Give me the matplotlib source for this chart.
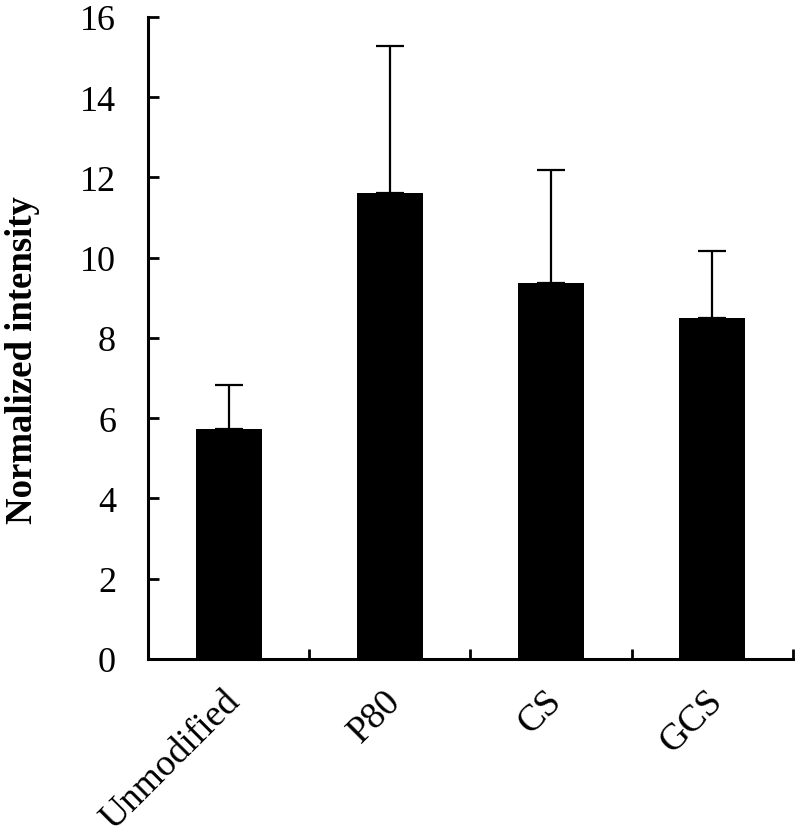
import matplotlib
matplotlib.use("Agg")
import matplotlib.pyplot as plt
import numpy as np

categories = ["Unmodified", "P80", "CS", "GCS"]
values = [5.72, 11.62, 9.37, 8.5]
errors = [1.11, 3.65, 2.82, 1.66]
yticks = [0, 2, 4, 6, 8, 10, 12, 14, 16]

plt.rcParams['font.family'] = ['Liberation Serif', 'DejaVu Serif']

fig = plt.figure(figsize=(8, 8.37), dpi=100)
ax = fig.add_axes([0.185, 0.2115, 0.806, 0.767])

x = np.arange(len(categories))
ax.bar(x, values, width=0.41, color='black', zorder=2)
ax.errorbar(x, values, yerr=[np.zeros(len(errors)), errors], fmt='none',
            ecolor='black', elinewidth=1.6, capsize=10, capthick=1.6, zorder=1)

ax.set_xlim(-0.5, len(categories) - 0.5)
ax.set_ylim(0, 16)
ax.set_yticks(yticks)
ax.set_yticklabels([str(t) for t in yticks], fontsize=26)

ax.set_xticks(np.arange(len(categories) + 1) - 0.5)
ax.set_xticklabels([])
ax.tick_params(axis='x', direction='in', length=7, width=2)
ax.tick_params(axis='y', direction='in', length=8, width=2, pad=23)
for i, c in enumerate(categories):
    ax.text(i - 0.04, -0.6, c, rotation=45, ha='right', va='top',
            rotation_mode='anchor', fontsize=27, transform=ax.transData)

ax.set_ylabel("Normalized intensity", fontsize=26.5, fontweight='bold')
ax.yaxis.set_label_coords(-0.168, 0.467)

for s in ['top', 'right']:
    ax.spines[s].set_visible(False)
for s in ['left', 'bottom']:
    ax.spines[s].set_linewidth(2.2)

fig.savefig("out.png", dpi=100)
